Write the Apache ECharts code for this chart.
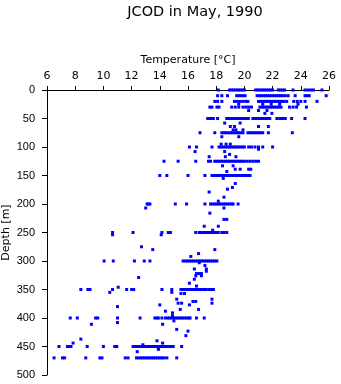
<!DOCTYPE html>
<html>
<head>
<meta charset="utf-8">
<script src="https://cdn.jsdelivr.net/npm/echarts@6/dist/echarts.min.js"></script>
<style>
html,body{margin:0;padding:0;background:#fff;}
#chart{width:341px;height:384px;}
</style>
</head>
<body>
<div id="chart"></div>
<script>
// Standard sampling depths (m) and temperatures (°C) read at each
const levelDepths = [0, 10, 20, 30, 50, 75, 100, 125, 150, 200, 250, 300, 350, 400, 450, 470];
const temps0 = [18.15, 18.95, 19.1, 19.25, 19.4, 19.55, 19.7, 19.85, 20.0, 20.8, 20.95, 21.1, 21.25, 21.4, 21.55, 21.7, 21.85, 22.0, 22.4, 22.55, 22.7, 22.85, 23.45, 24.3, 24.5, 24.7, 24.9, 25.5];
const temps10 = [18.1, 18.4, 18.8, 19.45, 19.6, 19.75, 19.9, 20.05, 20.9, 21.05, 21.2, 21.35, 21.5, 21.65, 21.8, 21.95, 22.1, 22.25, 22.4, 22.55, 22.7, 22.9, 23.1, 23.6, 24.3, 24.45, 24.6, 25.8];
const temps20 = [17.9, 18.1, 18.4, 19.3, 19.5, 19.7, 19.9, 20.1, 20.25, 21.0, 21.15, 21.3, 21.45, 21.6, 21.75, 21.9, 22.05, 22.2, 22.35, 22.5, 22.65, 22.8, 23.0, 23.5, 23.75, 24.0, 24.3, 25.15];
const temps30 = [17.55, 17.7, 18.05, 18.2, 19.1, 19.35, 19.6, 19.9, 20.1, 20.3, 20.5, 21.1, 21.25, 21.4, 21.55, 21.7, 21.85, 22.0, 22.15, 22.3, 22.45, 22.6, 23.2, 23.45, 23.7, 24.4];
const temps50 = [17.4, 17.6, 17.8, 18.1, 18.75, 18.9, 19.05, 19.2, 19.35, 19.5, 19.65, 19.8, 19.95, 20.1, 20.28, 20.6, 20.75, 20.9, 21.05, 21.2, 21.35, 21.5, 21.65, 21.8, 22.3, 22.5, 22.7, 22.9, 23.35, 24.3];
const temps75 = [16.85, 17.9, 18.4, 18.55, 18.7, 18.85, 19.0, 19.15, 19.3, 19.45, 19.6, 19.75, 19.9, 20.25, 20.4, 20.55, 20.7, 20.85, 21.0, 21.15, 21.3, 21.7, 23.4];
const temps100 = [16.1, 16.6, 17.7, 18.2, 18.35, 18.5, 18.65, 18.8, 18.95, 19.1, 19.25, 19.4, 19.55, 19.7, 19.85, 20.0, 20.3, 20.5, 20.75, 21.0, 21.3, 22.0];
const temps125 = [14.3, 15.3, 16.55, 17.45, 17.6, 17.9, 18.05, 18.2, 18.35, 18.5, 18.65, 18.8, 18.95, 19.1, 19.25, 19.4, 19.55, 19.7, 19.85, 20.0, 20.2, 20.4, 20.6, 20.8, 21.0];
const temps150 = [14.0, 14.5, 16.0, 17.2, 17.7, 17.85, 18.0, 18.15, 18.3, 18.45, 18.6, 18.75, 18.9, 19.05, 19.2, 19.35, 19.5, 19.65, 19.8, 19.95, 20.1, 20.25, 20.4];
const temps200 = [13.1, 13.2, 13.3, 15.1, 15.9, 17.2, 17.6, 17.75, 17.9, 18.05, 18.2, 18.35, 18.5, 18.65, 18.8, 18.95, 19.1, 19.2, 19.55];
const temps250 = [10.65, 12.1, 14.15, 14.6, 14.75, 16.55, 16.8, 16.95, 17.1, 17.25, 17.4, 17.55, 17.7, 17.85, 18.0, 18.15, 18.4, 18.55, 18.75];
const temps300 = [10.05, 10.7, 12.2, 12.9, 13.3, 15.65, 15.8, 15.95, 16.1, 16.25, 16.4, 16.55, 16.7, 16.85, 17.0, 17.15, 17.3, 17.45, 17.6, 17.75, 17.9, 18.05];
const temps350 = [8.4, 8.9, 9.05, 10.65, 11.65, 12.0, 12.15, 14.15, 14.85, 15.5, 15.65, 15.8, 15.95, 16.1, 16.25, 16.4, 16.55, 16.7, 16.85, 17.0, 17.15, 17.3, 17.5, 17.65, 17.8];
const temps400 = [7.65, 8.15, 9.45, 9.6, 11.0, 12.6, 13.65, 13.8, 13.9, 14.15, 14.4, 14.55, 14.7, 14.85, 15.0, 15.15, 15.3, 15.45, 15.6, 15.75, 15.9, 16.05, 16.15, 16.6, 17.15];
const temps450 = [6.85, 7.45, 7.6, 7.7, 8.85, 10.0, 10.8, 10.95, 12.1, 12.25, 12.4, 12.55, 12.7, 12.85, 13.0, 13.15, 13.3, 13.45, 13.6, 13.75, 13.9, 14.05, 14.2, 14.35, 14.5, 14.65, 14.8, 14.95, 15.55];
const temps470 = [6.5, 7.1, 7.25, 8.75, 9.75, 9.9, 11.55, 11.75, 12.35, 12.5, 12.65, 12.8, 12.95, 13.1, 13.25, 13.4, 13.55, 13.7, 13.85, 14.0, 14.15, 14.3, 14.5, 15.2];
const levelTemps = [temps0, temps10, temps20, temps30, temps50, temps75, temps100, temps125, temps150, temps200, temps250, temps300, temps350, temps400, temps450, temps470];

// Samples at intermediate depths
const extraDepths = [25, 25, 25, 25, 25, 36, 36, 36, 41, 41, 58, 58, 64, 64, 64, 64, 70, 70, 70, 82, 82, 95, 95, 95, 104, 108, 108, 113, 117, 117, 117, 133, 133, 139, 139, 139, 139, 143, 155, 164, 171, 174, 179, 188, 195, 207, 207, 216, 227, 227, 239, 239, 246, 254, 254, 275, 280, 280, 287, 292, 303, 308, 314, 314, 318, 322, 322, 322, 326, 326, 329, 332, 339, 344, 346, 355, 355, 357, 357, 367, 367, 371, 371, 374, 374, 374, 377, 377, 380, 385, 385, 388, 391, 396, 405, 408, 411, 411, 420, 423, 431, 437, 440, 444, 444, 447, 453, 455, 459];
const extraTemps = [19.6, 21.3, 21.9, 22.5, 23.8, 20.3, 21.0, 21.6, 21.45, 21.95, 18.6, 19.7, 19.0, 19.3, 21.0, 21.7, 19.2, 19.4, 19.9, 18.4, 19.6, 18.35, 18.7, 19.0, 21.0, 16.5, 18.6, 18.95, 17.5, 18.65, 19.4, 18.45, 19.2, 19.35, 19.7, 20.3, 20.45, 18.75, 18.5, 19.35, 19.15, 18.8, 17.5, 18.55, 18.15, 13.0, 18.55, 17.55, 18.55, 18.75, 17.15, 18.15, 17.75, 10.65, 14.1, 12.7, 13.5, 17.9, 16.75, 16.2, 16.8, 17.2, 16.45, 17.3, 17.3, 16.6, 16.8, 16.95, 16.55, 16.95, 12.5, 16.45, 16.1, 16.6, 11.05, 10.45, 14.85, 15.5, 15.75, 15.2, 17.7, 16.35, 16.55, 15.3, 15.55, 17.7, 14.0, 16.1, 11.0, 15.45, 16.75, 14.4, 14.9, 14.9, 15.0, 11.0, 9.15, 14.2, 15.2, 16.0, 15.85, 8.4, 13.8, 7.85, 14.2, 12.8, 13.9, 13.9, 12.4];

const xTicks = [6, 26, 2];   // min, max, step
const yTicks = [0, 500, 50];

const points = [];
levelDepths.forEach((d, i) => levelTemps[i].forEach(t => points.push([t, d])));
extraDepths.forEach((d, i) => points.push([extraTemps[i], d]));

const chart = echarts.init(document.getElementById('chart'), null, {renderer: 'canvas'});
chart.setOption({
  animation: false,
  backgroundColor: '#ffffff',
  title: {
    text: 'JCOD in May, 1990',
    left: 190,
    top: 0,
    textAlign: 'center',
    textStyle: {fontFamily: 'DejaVu Sans', fontSize: 14.5, fontWeight: 'normal', color: '#000'}
  },
  grid: {left: 47, top: 90, width: 282, height: 285, containLabel: false, outerBoundsMode: 'none'},
  xAxis: {
    type: 'value', position: 'top',
    min: xTicks[0], max: xTicks[1], interval: xTicks[2],
    name: 'Temperature [°C]', nameLocation: 'middle', nameGap: 22,
    nameTextStyle: {fontFamily: 'DejaVu Sans', fontSize: 11, color: '#000'},
    axisLine: {show: true, onZero: false, lineStyle: {color: '#000', width: 1}},
    axisTick: {show: true, inside: false, length: 4, lineStyle: {color: '#000', width: 1}},
    axisLabel: {fontFamily: 'DejaVu Sans', fontSize: 11, color: '#000', margin: 8},
    splitLine: {show: false}
  },
  yAxis: {
    type: 'value', inverse: true,
    min: yTicks[0], max: yTicks[1], interval: yTicks[2],
    name: 'Depth [m]', nameLocation: 'middle', nameGap: 35, nameRotate: 90,
    nameMoveOverlap: false,
    nameTextStyle: {fontFamily: 'DejaVu Sans', fontSize: 11, color: '#000'},
    axisLine: {show: true, onZero: false, lineStyle: {color: '#000', width: 1}},
    axisTick: {show: true, inside: false, length: 5, lineStyle: {color: '#000', width: 1}},
    axisLabel: {fontFamily: 'Liberation Sans', fontSize: 11, color: '#000', margin: 12},
    splitLine: {show: false}
  },
  series: [{
    type: 'scatter',
    data: points,
    symbol: 'rect',
    symbolSize: 3,
    itemStyle: {color: '#0000ff', opacity: 1},
    silent: true
  }]
});
</script>
</body>
</html>
